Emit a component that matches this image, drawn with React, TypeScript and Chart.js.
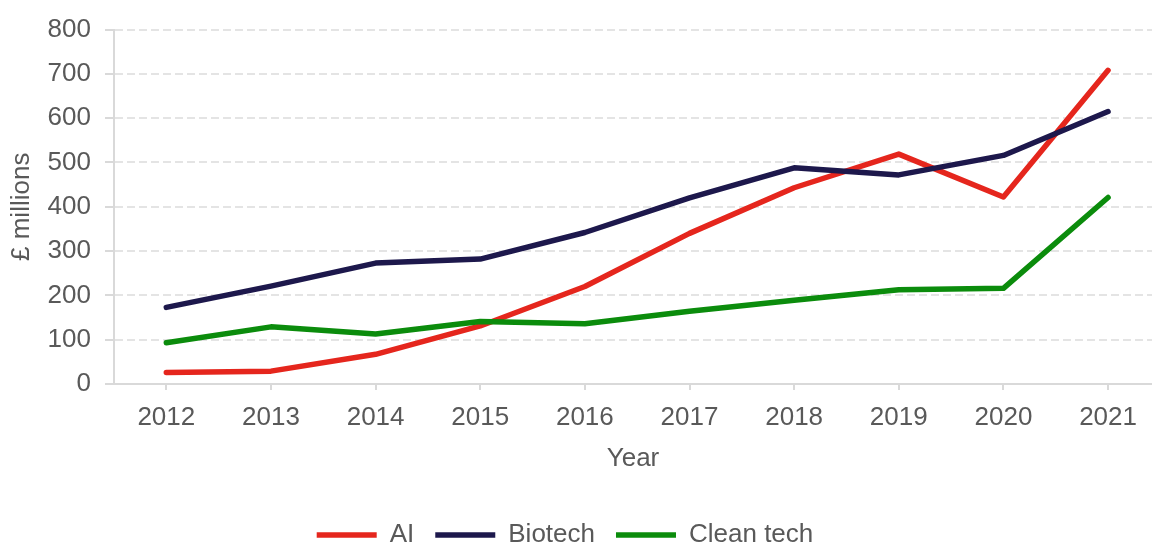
import React, { useEffect, useRef } from "react";
import { Chart, registerables } from "chart.js";

Chart.register(...registerables);

const years = [2012, 2013, 2014, 2015, 2016, 2017, 2018, 2019, 2020, 2021];
const aiValues = [26, 29, 67, 131, 220, 340, 443, 519, 422, 708];
const biotechValues = [173, 221, 273, 282, 342, 420, 488, 472, 516, 615];
const cleanTechValues = [93, 129, 113, 141, 136, 164, 189, 213, 216, 421];
const yTicks = [0, 100, 200, 300, 400, 500, 600, 700, 800];

const FONT = "'Liberation Sans', Arial, sans-serif";
const TEXT = "#595959";
const AXIS = "#d9d9d9";
const GRID = "#e4e4e4";
const FS = 26;

export default function App() {
  const ref = useRef<HTMLCanvasElement | null>(null);

  useEffect(() => {
    if (!ref.current) return;
    const toPoints = (vals: number[]) => years.map((x, i) => ({ x, y: vals[i] }));
    const common = {
      borderWidth: 5.5,
      pointRadius: 0,
      pointHoverRadius: 0,
      pointStyle: "line" as const,
      tension: 0,
      borderCapStyle: "round" as const,
      borderJoinStyle: "round" as const,
      fill: false,
    };
    const legendPlugin = {
      id: "legendFit",
      beforeUpdate(chart: any) {
        const lg = chart.legend;
        if (lg && !lg.__patched) {
          const fit = lg.fit;
          lg.fit = function () {
            fit.call(this);
            this.height = 48;
          };
          lg.__patched = true;
        }
      },
      afterLayout(chart: any) {
        const lg = chart.legend;
        if (lg) {
          lg.left -= 11;
          lg.right -= 11;
        }
      },
    };
    const chart = new Chart(ref.current, {
      type: "line",
      data: {
        datasets: [
          { label: "AI", data: toPoints(aiValues), borderColor: "#e5261d", backgroundColor: "#e5261d", order: 3, ...common },
          { label: "Biotech", data: toPoints(biotechValues), borderColor: "#1d184c", backgroundColor: "#1d184c", order: 2, ...common },
          { label: "Clean tech", data: toPoints(cleanTechValues), borderColor: "#0b8c0c", backgroundColor: "#0b8c0c", order: 1, ...common },
        ],
      },
      options: {
        animation: false,
        responsive: true,
        maintainAspectRatio: false,
        layout: { padding: { top: 24, left: 0, right: 0, bottom: 0 } },
        font: { family: FONT },
        plugins: {
          tooltip: { enabled: false },
          legend: {
            position: "bottom",
            labels: {
              usePointStyle: true,
              pointStyleWidth: 60,
              padding: 21,
              color: TEXT,
              font: { family: FONT, size: FS },
              sort: (a: any, b: any) => a.datasetIndex - b.datasetIndex,
            },
          },
        },
        scales: {
          x: {
            type: "linear",
            min: 2011.5,
            max: 2021.42,
            afterBuildTicks: (scale: any) => {
              scale.ticks = years.map((v) => ({ value: v }));
            },
            afterFit: (scale: any) => {
              scale.height = 117;
            },
            ticks: {
              color: TEXT,
              font: { family: FONT, size: FS },
              padding: 12,
              autoSkip: false,
              maxRotation: 0,
              callback: (v: any) => String(v),
            },
            grid: {
              drawOnChartArea: false,
              drawTicks: true,
              tickLength: 6,
              tickColor: AXIS,
              tickWidth: 2,
              color: AXIS,
              lineWidth: 2,
            },
            border: { display: true, color: AXIS, width: 2 },
            title: {
              display: true,
              text: "Year",
              color: TEXT,
              font: { family: FONT, size: FS },
              padding: { top: 0, bottom: 27 },
            },
          },
          y: {
            min: 0,
            max: 800,
            afterBuildTicks: (scale: any) => {
              scale.ticks = yTicks.map((v) => ({ value: v }));
            },
            afterFit: (scale: any) => {
              scale.width = 114;
            },
            ticks: {
              color: TEXT,
              font: { family: FONT, size: FS },
              padding: 14,
              callback: (v: any) => String(v),
            },
            grid: {
              color: GRID,
              lineWidth: 2,
              drawTicks: true,
              tickLength: 9,
              tickColor: AXIS,
              tickWidth: 2,
              tickBorderDash: [],
            },
            border: { display: true, color: AXIS, width: 2, dash: [8, 4] },
            title: {
              display: true,
              text: "£ millions",
              color: TEXT,
              font: { family: FONT, size: FS },
              padding: { top: 6, bottom: 0 },
            },
          },
        },
      },
      plugins: [legendPlugin],
    } as any);
    return () => chart.destroy();
  }, []);

  return (
    <div style={{ position: "fixed", left: 0, top: 0, width: 1152, height: 549, background: "#fff" }}>
      <canvas ref={ref} />
    </div>
  );
}
